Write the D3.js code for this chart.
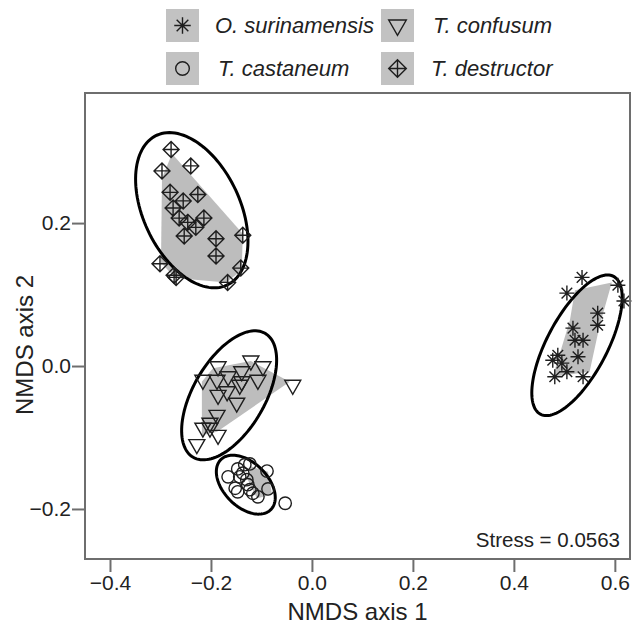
<!DOCTYPE html>
<html><head><meta charset="utf-8">
<script src="https://cdn.jsdelivr.net/npm/d3@7/dist/d3.min.js"></script>
<style>body{margin:0;background:#fff}svg{display:block}text{font-family:"Liberation Sans",Arial,sans-serif}</style>
</head><body><svg id="c" width="638" height="628"></svg>
<script>
const species = ["O. surinamensis","T. confusum","T. castaneum","T. destructor"];
const symbols = ["asterisk","triangle","circle","diamond"];
const xTicks = [-0.4,-0.2,0.0,0.2,0.4,0.6];
const yTicks = [-0.2,0.0,0.2];
const stressLabel = "Stress = 0.0563";

const surinamensisPts = [[0.535,0.124],[0.505,0.102],[0.606,0.113],[0.618,0.091],[0.566,0.074],[0.566,0.057],[0.517,0.053],[0.521,0.036],[0.537,0.036],[0.527,0.013],[0.487,0.015],[0.477,0.008],[0.495,0.004],[0.505,-0.008],[0.481,-0.015],[0.537,-0.015]];
const confusumPts = [[-0.121,0.007],[-0.097,-0.001],[-0.186,-0.001],[-0.216,-0.020],[-0.188,-0.020],[-0.166,-0.015],[-0.139,-0.008],[-0.139,-0.022],[-0.107,-0.020],[-0.143,-0.027],[-0.038,-0.027],[-0.168,-0.036],[-0.186,-0.041],[-0.149,-0.052],[-0.188,-0.069],[-0.202,-0.080],[-0.216,-0.087],[-0.202,-0.087],[-0.186,-0.097],[-0.228,-0.110]];
const castaneumPts = [[-0.166,-0.155],[-0.147,-0.144],[-0.133,-0.138],[-0.123,-0.137],[-0.143,-0.155],[-0.089,-0.147],[-0.152,-0.171],[-0.147,-0.176],[-0.127,-0.166],[-0.123,-0.173],[-0.117,-0.178],[-0.107,-0.183],[-0.087,-0.172],[-0.053,-0.192],[-0.137,-0.150],[-0.129,-0.159]];
const destructorPts = [[-0.279,0.303],[-0.240,0.280],[-0.297,0.273],[-0.281,0.243],[-0.226,0.240],[-0.255,0.231],[-0.275,0.221],[-0.263,0.207],[-0.246,0.201],[-0.214,0.207],[-0.230,0.194],[-0.253,0.182],[-0.190,0.178],[-0.137,0.183],[-0.190,0.154],[-0.301,0.143],[-0.273,0.127],[-0.269,0.124],[-0.141,0.137],[-0.167,0.117]];

const surinamensisHull = [[0.521,0.106],[0.594,0.117],[0.570,0.057],[0.550,-0.008],[0.477,-0.015],[0.511,0.064]];
const confusumHull = [[-0.196,-0.003],[-0.121,0.007],[-0.044,-0.022],[-0.188,-0.092],[-0.218,-0.097],[-0.218,-0.022]];
const castaneumHull = [[-0.123,-0.140],[-0.087,-0.148],[-0.079,-0.180],[-0.109,-0.185],[-0.127,-0.159]];
const destructorHull = [[-0.277,0.297],[-0.137,0.185],[-0.139,0.134],[-0.170,0.117],[-0.271,0.123],[-0.299,0.145],[-0.297,0.263]];

// ellipse: centre, conjugate semi-axis vectors U and V (data units)
const surinamensisEll = {c:[0.525,0.029], u:[0.0725,0.0964], v:[0.0525,-0.0197]};
const confusumEll = {c:[-0.164,-0.041], u:[0.0713,0.0867], v:[0.0614,-0.0252]};
const castaneumEll = {c:[-0.131,-0.166], u:[0.0495,-0.0350], v:[0.0309,0.0218]};
const destructorEll = {c:[-0.238,0.218], u:[0.0693,-0.1049], v:[0.0871,0.0280]};

const groups = [
  {pts:surinamensisPts, hull:surinamensisHull, ell:surinamensisEll, sym:"asterisk"},
  {pts:confusumPts, hull:confusumHull, ell:confusumEll, sym:"triangle"},
  {pts:castaneumPts, hull:castaneumHull, ell:castaneumEll, sym:"circle"},
  {pts:destructorPts, hull:destructorHull, ell:destructorEll, sym:"diamond"}
];

const L=85,R=630,T=93,B=559;
const x = d3.scaleLinear().domain([-0.4495,0.630]).range([L,R]);
const y = d3.scaleLinear().domain([-0.270,0.382]).range([B,T]);
const svg = d3.select("#c");
const ink="#1e1e1e", axisCol="#6e6e6e", grey="#bdbdbd";

function symPath(type,s){
  s=s||1;
  if(type==="asterisk"){const a=7.5*s,d=a*0.7071;return `M${-a},0L${a},0M0,${-a}L0,${a}M${-d},${-d}L${d},${d}M${-d},${d}L${d},${-d}`;}
  if(type==="triangle"){return `M${-8*s},${-5*s}L${8*s},${-5*s}L0,${9*s}Z`;}
  if(type==="circle"){const r=6.2*s;return `M${r},0A${r},${r} 0 1,1 ${-r},0A${r},${r} 0 1,1 ${r},0Z`;}
  if(type==="diamond"){const a=8*s;return `M0,${-a}L${a},0L0,${a}L${-a},0ZM0,${-a}L0,${a}M${-a},0L${a},0`;}
}

const g = svg.append("g");
groups.forEach(gr=>{
  g.append("path").attr("d", d3.line().x(d=>x(d[0])).y(d=>y(d[1])).curve(d3.curveLinearClosed)(gr.hull))
   .attr("fill",grey).attr("stroke","none");
});
groups.forEach(gr=>{
  const e=gr.ell, pts=d3.range(0,121).map(i=>{const t=i/120*2*Math.PI;return [e.c[0]+e.u[0]*Math.cos(t)+e.v[0]*Math.sin(t), e.c[1]+e.u[1]*Math.cos(t)+e.v[1]*Math.sin(t)];});
  g.append("path").attr("d", d3.line().x(d=>x(d[0])).y(d=>y(d[1])).curve(d3.curveLinearClosed)(pts))
   .attr("fill","none").attr("stroke","#000").attr("stroke-width",3);
});
groups.forEach(gr=>{
  g.selectAll(null).data(gr.pts).enter().append("path")
   .attr("transform",d=>`translate(${x(d[0])},${y(d[1])})`)
   .attr("d",symPath(gr.sym)).attr("fill","none").attr("stroke",ink).attr("stroke-width",1.4);
});

svg.append("rect").attr("x",L).attr("y",T).attr("width",R-L).attr("height",B-T)
  .attr("fill","none").attr("stroke",axisCol).attr("stroke-width",2);

const fmt=d3.format(".1f");
const xa = svg.append("g").attr("transform",`translate(0,${B})`)
  .call(d3.axisBottom(x).tickValues(xTicks).tickFormat(fmt).tickSize(13).tickPadding(3));
const ya = svg.append("g").attr("transform",`translate(${L},0)`)
  .call(d3.axisLeft(y).tickValues(yTicks).tickFormat(fmt).tickSize(13).tickPadding(1));
[xa,ya].forEach(a=>{a.select(".domain").remove();a.selectAll("line").attr("stroke",axisCol).attr("stroke-width",2);
  a.selectAll("text").attr("fill","#222").style("font-size","21px").style("font-family","Liberation Sans, Arial, sans-serif");});

svg.append("text").attr("x",(L+R)/2).attr("y",620).attr("text-anchor","middle").style("font-size","24px").attr("fill","#222").text("NMDS axis 1");
svg.append("text").attr("transform",`translate(33,345) rotate(-90)`).attr("text-anchor","middle").style("font-size","24px").attr("fill","#222").text("NMDS axis 2");
svg.append("text").attr("x",R-10).attr("y",B-12).attr("text-anchor","end").style("font-size","20.5px").attr("fill","#222").text(stressLabel);

const legPos=[[166,9],[381,9],[166,52],[381,52]];
const legTx=[215,433,218,431];
species.forEach((s,i)=>{
  const [lx,ly]=legPos[i];
  svg.append("rect").attr("x",lx).attr("y",ly).attr("width",33).attr("height",33).attr("fill","#c2c2c2");
  svg.append("path").attr("transform",`translate(${lx+16.5},${ly+16.5})`).attr("d",symPath(symbols[i],1.1))
    .attr("fill","none").attr("stroke",ink).attr("stroke-width",1.4);
  svg.append("text").attr("x",legTx[i]).attr("y",ly+24).style("font-size","22px").style("font-style","italic").attr("fill","#222").text(s);
});
</script></body></html>
